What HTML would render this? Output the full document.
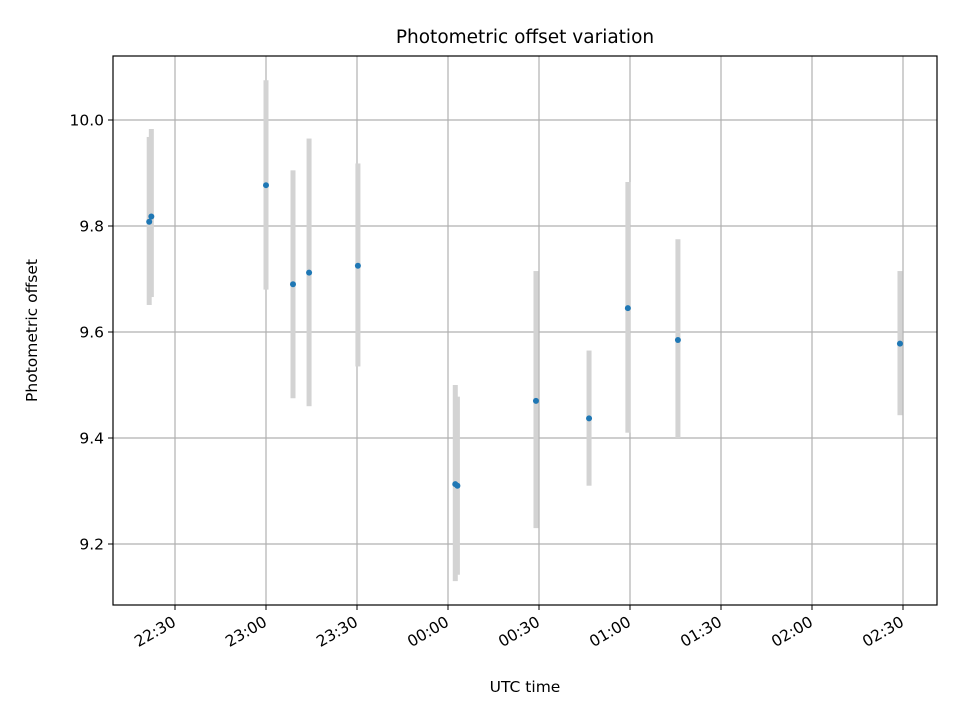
<!DOCTYPE html>
<html><head><meta charset="utf-8"><style>
body{margin:0;background:#fff;}
svg{font-family:"DejaVu Sans","Liberation Sans",sans-serif;}
</style></head><body>
<svg id="chart" width="960" height="720"></svg>
<script>
const times = [-8.5, -7.8, 30, 38.9, 44.2, 60.3, 92.4, 93.1, 119, 136.5, 149.3, 165.8, 239];
const offsets = [9.808, 9.818, 9.877, 9.690, 9.712, 9.725, 9.313, 9.310, 9.470, 9.437, 9.645, 9.585, 9.578];
const errLow = [9.651, 9.666, 9.680, 9.475, 9.460, 9.535, 9.130, 9.142, 9.230, 9.310, 9.410, 9.400, 9.443];
const errHigh = [9.968, 9.983, 10.075, 9.905, 9.965, 9.918, 9.500, 9.478, 9.715, 9.565, 9.883, 9.775, 9.715];
const yTicks = [9.2, 9.4, 9.6, 9.8, 10.0];
const xTickMin = [0, 30, 60, 90, 120, 150, 180, 210, 240];
const xTickLabels = ["22:30","23:00","23:30","00:00","00:30","01:00","01:30","02:00","02:30"];

const L=113,R=937,T=56,B=605;
const xs = m => 175 + m*91/30;
const ys = v => 120 + (10.0 - v)*530;
const NS="http://www.w3.org/2000/svg";
const svg=document.getElementById('chart');
function mk(tag,attrs,parent){const e=document.createElementNS(NS,tag);for(const k in attrs)e.setAttribute(k,attrs[k]);(parent||svg).appendChild(e);return e;}

const grid=mk('g',{});


xTickMin.forEach((m,i)=>{
  const x=xs(m);
  const l=mk('line',{x1:x,x2:x,y1:T,y2:B,stroke:'#b0b0b0','stroke-width':1.2},grid);
  
  
  mk('line',{x1:x,x2:x,y1:B,y2:B+5,stroke:'#000'});
  const t=mk('text',{x:x+2,y:B+20,'font-size':15.5,'text-anchor':'end',transform:`rotate(-30 ${x+2} ${B+20})`});
  t.textContent=xTickLabels[i];
  
  
});
yTicks.forEach(v=>{
  const y=ys(v);
  const l=mk('line',{x1:L,x2:R,y1:y,y2:y,stroke:'#b0b0b0','stroke-width':1.2},grid);
  
  
  mk('line',{x1:L-5,x2:L,y1:y,y2:y,stroke:'#000'});
  const t=mk('text',{x:L-9,y:y+5.5,'font-size':15.5,'text-anchor':'end'});
  t.textContent=v.toFixed(1);
  
  
});
times.forEach((m,i)=>{
  const x=xs(m);
  const r=mk('rect',{x:x-2.5,y:ys(errHigh[i]),width:5,height:ys(errLow[i])-ys(errHigh[i]),fill:'#d3d3d3'});
  
  
});
times.forEach((m,i)=>{
  const c=mk('circle',{cx:xs(m),cy:ys(offsets[i]),r:3,fill:'#1f77b4'});
  
  
});
const frame=mk('rect',{x:L,y:T,width:R-L,height:B-T,fill:'none',stroke:'#000','stroke-width':1.2});


const title=mk('text',{x:(L+R)/2,y:43,'font-size':18.5,'text-anchor':'middle'});
title.textContent='Photometric offset variation';


const xt=mk('text',{x:(L+R)/2,y:692,'font-size':15.5,'text-anchor':'middle'});
xt.textContent='UTC time';


const yt=mk('text',{x:37,y:(T+B)/2,'font-size':15.5,'text-anchor':'middle',transform:`rotate(-90 37 ${(T+B)/2})`});
yt.textContent='Photometric offset';


</script>
</body></html>
